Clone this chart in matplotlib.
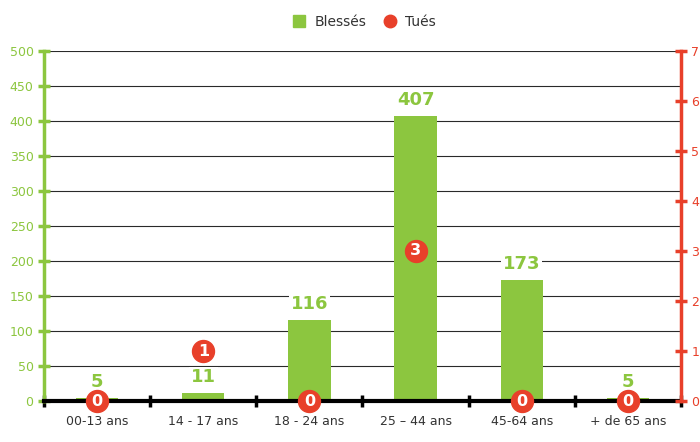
import matplotlib.pyplot as plt
import numpy as np

categories = ['00-13 ans', '14 - 17 ans', '18 - 24 ans', '25 – 44 ans', '45-64 ans', '+ de 65 ans']
blesses = [5, 11, 116, 407, 173, 5]
tues = [0, 1, 0, 3, 0, 0]
left_ticks = list(range(0, 501, 50))
right_ticks = list(range(0, 8))

green = '#8cc63f'
red = '#e8402a'
dark = '#333333'
plt.rcParams['font.family'] = ['DejaVu Sans']

fig = plt.figure(figsize=(7, 4.42), dpi=100)
ax = fig.add_axes([44 / 700, 1 - 401 / 442, (681 - 44) / 700, 350 / 442])
ax2 = ax.twinx()

x = np.arange(len(categories))

# green bars on the left axis
ax.bar(x, blesses, width=0.4, color=green, zorder=3)
for xi, v in zip(x, blesses):
    ax.annotate(str(v), (xi, v), xytext=(0, 5), textcoords='offset points',
                ha='center', va='bottom', color=green, fontsize=13,
                fontweight='bold', zorder=5,
                bbox=dict(boxstyle='square,pad=0.1', fc='white', ec='none'))

ax.set_xlim(-0.5, len(categories) - 0.5)
ax.set_ylim(0, 500)
ax.set_yticks(left_ticks)
ax.yaxis.grid(True, color='#2a2a2a', linewidth=0.8, zorder=0)
ax.set_axisbelow(True)
ax.set_xticks(x)
ax.set_xticklabels(categories, fontsize=9, color=dark)
ax.tick_params(axis='x', length=0, pad=10)
ax.set_xticks(np.arange(-0.5, len(categories)), minor=True)
ax.tick_params(axis='x', which='minor', direction='inout', length=8, width=2.5, color='black')
ax.tick_params(axis='y', direction='inout', length=8, width=2.5, color=green,
               labelcolor=green, labelsize=9)

for s in ['top', 'right']:
    ax.spines[s].set_visible(False)
ax.spines['left'].set_color(green)
ax.spines['left'].set_linewidth(2.5)
ax.spines['bottom'].set_color('black')
ax.spines['bottom'].set_linewidth(3)
ax.spines['bottom'].set_zorder(4)

# red circles on the right axis
ax2.set_ylim(0, 7)
ax2.set_yticks(right_ticks)
ax2.scatter(x, tues, s=250, color=red, zorder=6, clip_on=False)
for xi, v in zip(x, tues):
    ax2.text(xi, v, str(v), ha='center', va='center', color='white',
             fontsize=11.5, fontweight='bold', zorder=7)
ax2.tick_params(axis='y', direction='inout', length=8, width=2.5, color=red,
                labelcolor=red, labelsize=9)
for s in ['top', 'left', 'bottom']:
    ax2.spines[s].set_visible(False)
ax2.spines['right'].set_color(red)
ax2.spines['right'].set_linewidth(2.5)

# legend
h1 = plt.Line2D([], [], marker='s', linestyle='none', color=green, markersize=9)
h2 = plt.Line2D([], [], marker='o', linestyle='none', color=red, markersize=9)
fig.legend([h1, h2], ['Blessés', 'Tués'], loc='center', bbox_to_anchor=(0.515, 0.95),
           ncol=2, frameon=False, fontsize=10, handletextpad=0.1,
           columnspacing=0.7, labelcolor=dark)

fig.savefig('out.png', dpi=100, facecolor='white')
